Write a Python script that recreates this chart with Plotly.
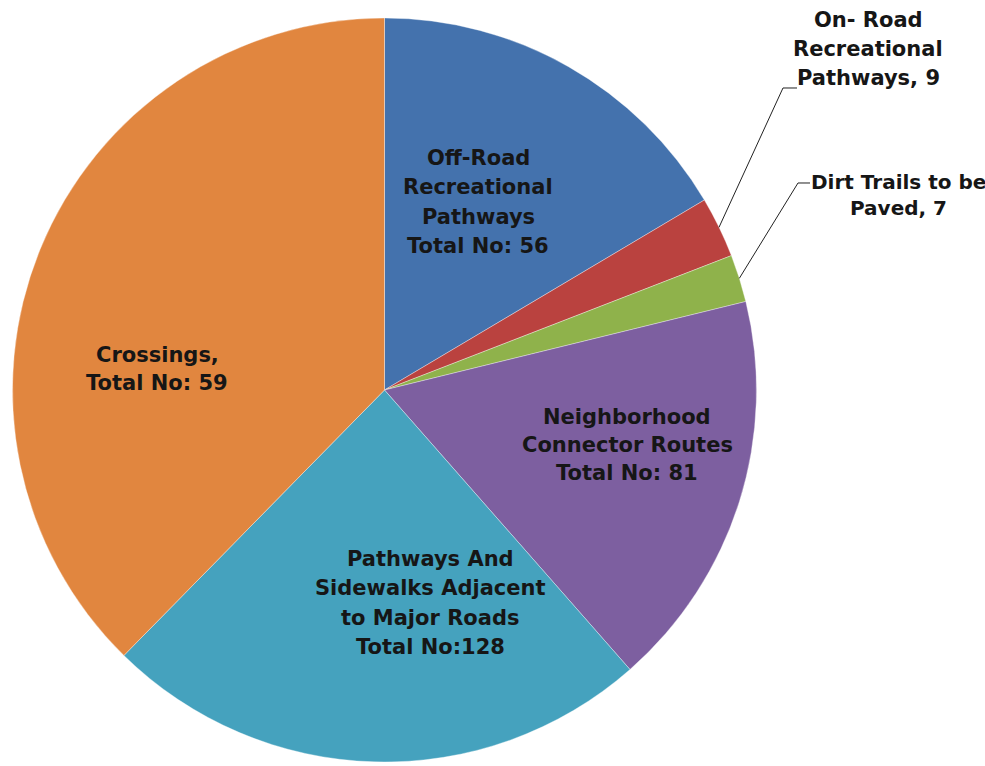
import math

import plotly.graph_objects as go

# slice values in drawing order (clockwise from 12 o'clock), as they appear in the picture
categories = [
    "Off-Road Recreational Pathways",
    "On- Road Recreational Pathways",
    "Dirt Trails to be Paved",
    "Neighborhood Connector Routes",
    "Pathways And Sidewalks Adjacent to Major Roads",
    "Crossings",
]
values = [56, 9, 7, 59, 81, 128]
label_lines = [
    ["Off-Road", "Recreational", "Pathways", "Total No: 56"],
    ["On- Road", "Recreational", "Pathways, 9"],
    ["Dirt Trails to be", "Paved, 7"],
    ["Neighborhood", "Connector Routes", "Total No: 81"],
    ["Pathways And", "Sidewalks Adjacent", "to Major Roads", "Total No:128"],
    ["Crossings,", "Total No: 59"],
]
colors = ["#4472AD", "#BA423F", "#8FB24B", "#7D5FA0", "#45A2BE", "#E1863F"]

W, H = 985, 766
# pie box in pixels
PIE_X0, PIE_X1, PIE_Y0, PIE_Y1 = 12, 757, 18, 762
CX, CY = (PIE_X0 + PIE_X1) / 2, (PIE_Y0 + PIE_Y1) / 2
R = min(PIE_X1 - PIE_X0, PIE_Y1 - PIE_Y0) / 2

# label block centres (pixels), line spacing per block
label_pos = [(478, 202), (868, 49), (898, 195), (627, 445), (430, 603), (157, 369)]
line_gap = [29.5, 29, 26, 28, 29.5, 28]
label_size = [21, 21, 20, 21, 21, 21]
# leader-line elbows for outside labels (pixels): (elbow, end)
leaders = {1: ((783, 88), (797, 88)), 2: ((798, 183), (810, 183))}


def px(x, y):
    return x / W, 1 - y / H


fig = go.Figure(
    go.Pie(
        labels=categories,
        values=values,
        sort=False,
        direction="clockwise",
        rotation=0,
        textinfo="none",
        hoverinfo="label+value",
        marker={"colors": colors, "line": {"color": "rgba(255,255,255,0.35)", "width": 1}},
        domain={"x": [PIE_X0 / W, PIE_X1 / W], "y": [1 - PIE_Y1 / H, 1 - PIE_Y0 / H]},
        showlegend=False,
    )
)

annotations = []
for i, lines in enumerate(label_lines):
    bx, by = label_pos[i]
    n = len(lines)
    for k, line in enumerate(lines):
        x, y = px(bx, by + (k - (n - 1) / 2) * line_gap[i])
        annotations.append(
            dict(
                x=x, y=y, xref="paper", yref="paper", text=f"<b>{line}</b>",
                showarrow=False, xanchor="center", yanchor="middle",
                font={"family": "DejaVu Sans", "size": label_size[i], "color": "#161616"},
            )
        )

shapes = []
total = sum(values)
cum = 0
for i, v in enumerate(values):
    mid = (cum + v / 2) / total * 2 * math.pi
    cum += v
    if i not in leaders:
        continue
    sx, sy = CX + R * math.sin(mid), CY - R * math.cos(mid)
    (ex, ey), (hx, hy) = leaders[i]
    pts = [px(sx, sy), px(ex, ey), px(hx, hy)]
    path = "M " + " L ".join(f"{a:.5f},{b:.5f}" for a, b in pts)
    shapes.append(dict(type="path", xref="paper", yref="paper", path=path,
                       line={"color": "#222222", "width": 1}))

fig.update_layout(
    width=W,
    height=H,
    margin={"l": 0, "r": 0, "t": 0, "b": 0},
    paper_bgcolor="white",
    plot_bgcolor="white",
    annotations=annotations,
    shapes=shapes,
)
fig.write_html(
    "out.html",
    config={"displayModeBar": False},
    post_script="document.body.style.margin='0';",
)
